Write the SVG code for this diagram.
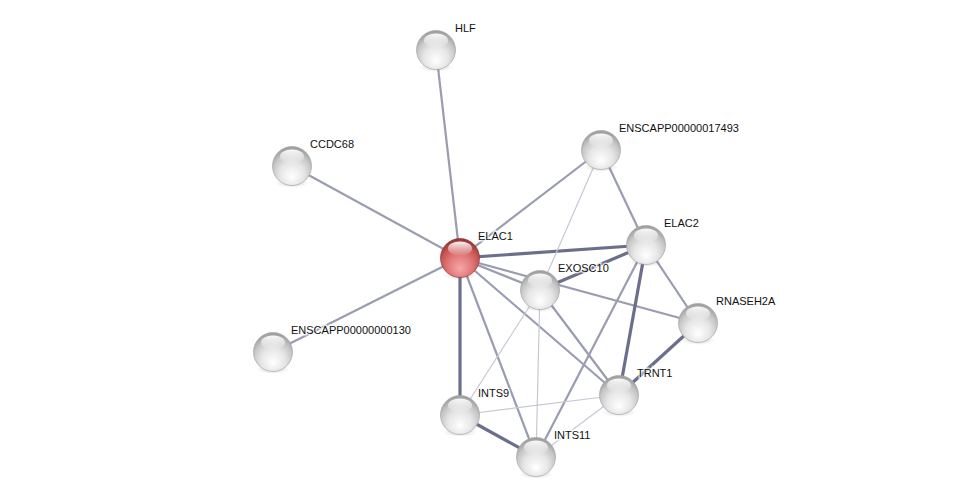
<svg xmlns="http://www.w3.org/2000/svg" width="975" height="502" viewBox="0 0 975 502">
<style>
.e{fill:none;stroke-linecap:butt}
.t{stroke:#6b6f8c;stroke-width:3.2}
.m{stroke:#9a9cb2;stroke-width:2.2}
.l{stroke:#c6c8d5;stroke-width:1.2}
.lbl{font-family:"Liberation Sans",Arial,sans-serif;font-size:11px;fill:#111;stroke:#fff;stroke-width:3;stroke-opacity:0.7;paint-order:stroke}
</style>
<defs>
<radialGradient id="gg" cx="50%" cy="66%" r="62%" fx="50%" fy="78%">
<stop offset="0" stop-color="#ffffff"/>
<stop offset="0.5" stop-color="#e6e6e6"/>
<stop offset="0.8" stop-color="#c6c6c6"/>
<stop offset="1" stop-color="#a0a0a0"/>
</radialGradient>
<radialGradient id="rg" cx="50%" cy="66%" r="62%" fx="50%" fy="78%">
<stop offset="0" stop-color="#f8a8a8"/>
<stop offset="0.5" stop-color="#e07878"/>
<stop offset="0.8" stop-color="#c85454"/>
<stop offset="1" stop-color="#9a3838"/>
</radialGradient>
<linearGradient id="hl" x1="0" y1="0" x2="0" y2="1">
<stop offset="0" stop-color="#fff" stop-opacity="0.95"/>
<stop offset="1" stop-color="#fff" stop-opacity="0.05"/>
</linearGradient>
<radialGradient id="sh" cx="50%" cy="50%" r="50%">
<stop offset="0" stop-color="#000" stop-opacity="0.18"/>
<stop offset="1" stop-color="#000" stop-opacity="0"/>
</radialGradient>
<g id="ball">
<ellipse cx="0" cy="17" rx="17" ry="5" fill="url(#sh)"/>
<circle r="19.5" fill="url(#gg)" stroke="#a6a6a6" stroke-width="0.7"/>
<ellipse cx="0" cy="-9.5" rx="12" ry="7" fill="url(#hl)"/>
</g>
<g id="rball">
<ellipse cx="0" cy="17" rx="17" ry="5" fill="url(#sh)"/>
<circle r="19.5" fill="url(#rg)" stroke="#903838" stroke-width="0.7"/>
<ellipse cx="0" cy="-9.5" rx="12" ry="7" fill="url(#hl)"/>
</g>
</defs>
<rect width="975" height="502" fill="#fff"/>
<g id="edges">
<line class="e m" x1="460" y1="258" x2="436" y2="50"/>
<line class="e m" x1="460" y1="258" x2="292" y2="166"/>
<line class="e m" x1="460" y1="258" x2="273" y2="352"/>
<line class="e m" x1="460" y1="258" x2="601" y2="150"/>
<line class="e t" x1="460" y1="258" x2="646" y2="245"/>
<line class="e m" x1="460" y1="258" x2="540" y2="290"/>
<line class="e m" x1="460" y1="258" x2="698" y2="323"/>
<line class="e m" x1="460" y1="258" x2="619" y2="395"/>
<line class="e t" x1="460" y1="258" x2="460" y2="415"/>
<line class="e m" x1="460" y1="258" x2="536" y2="457"/>
<line class="e m" x1="601" y1="150" x2="646" y2="245"/>
<line class="e l" x1="601" y1="150" x2="540" y2="290"/>
<line class="e t" x1="540" y1="290" x2="646" y2="245"/>
<line class="e m" x1="540" y1="290" x2="619" y2="395"/>
<line class="e l" x1="540" y1="290" x2="460" y2="415"/>
<line class="e l" x1="540" y1="290" x2="536" y2="457"/>
<line class="e m" x1="646" y1="245" x2="698" y2="323"/>
<line class="e t" x1="646" y1="245" x2="619" y2="395"/>
<line class="e m" x1="646" y1="245" x2="536" y2="457"/>
<line class="e t" x1="698" y1="323" x2="619" y2="395"/>
<line class="e t" x1="460" y1="415" x2="536" y2="457"/>
<line class="e l" x1="460" y1="415" x2="619" y2="395"/>
<line class="e l" x1="536" y1="457" x2="619" y2="395"/>
</g>
<g id="HLF"><use href="#ball" x="436" y="50"/><text class="lbl" x="455" y="32">HLF</text></g>
<g id="CCDC68"><use href="#ball" x="292" y="166"/><text class="lbl" x="310" y="148">CCDC68</text></g>
<g id="ENSCAPP00000017493"><use href="#ball" x="601" y="150"/><text class="lbl" x="619" y="132">ENSCAPP00000017493</text></g>
<g id="ENSCAPP00000000130"><use href="#ball" x="273" y="352"/><text class="lbl" x="291" y="334">ENSCAPP00000000130</text></g>
<g id="ELAC2"><use href="#ball" x="646" y="245"/><text class="lbl" x="664" y="227">ELAC2</text></g>
<g id="EXOSC10"><use href="#ball" x="540" y="290"/><text class="lbl" x="558" y="272">EXOSC10</text></g>
<g id="RNASEH2A"><use href="#ball" x="698" y="323"/><text class="lbl" x="716" y="305">RNASEH2A</text></g>
<g id="TRNT1"><use href="#ball" x="619" y="395"/><text class="lbl" x="637" y="377">TRNT1</text></g>
<g id="INTS9"><use href="#ball" x="460" y="415"/><text class="lbl" x="478" y="397">INTS9</text></g>
<g id="INTS11"><use href="#ball" x="536" y="457"/><text class="lbl" x="554" y="439">INTS11</text></g>
<g id="ELAC1"><use href="#rball" x="460" y="258"/><text class="lbl" x="478" y="240">ELAC1</text></g>
</svg>
